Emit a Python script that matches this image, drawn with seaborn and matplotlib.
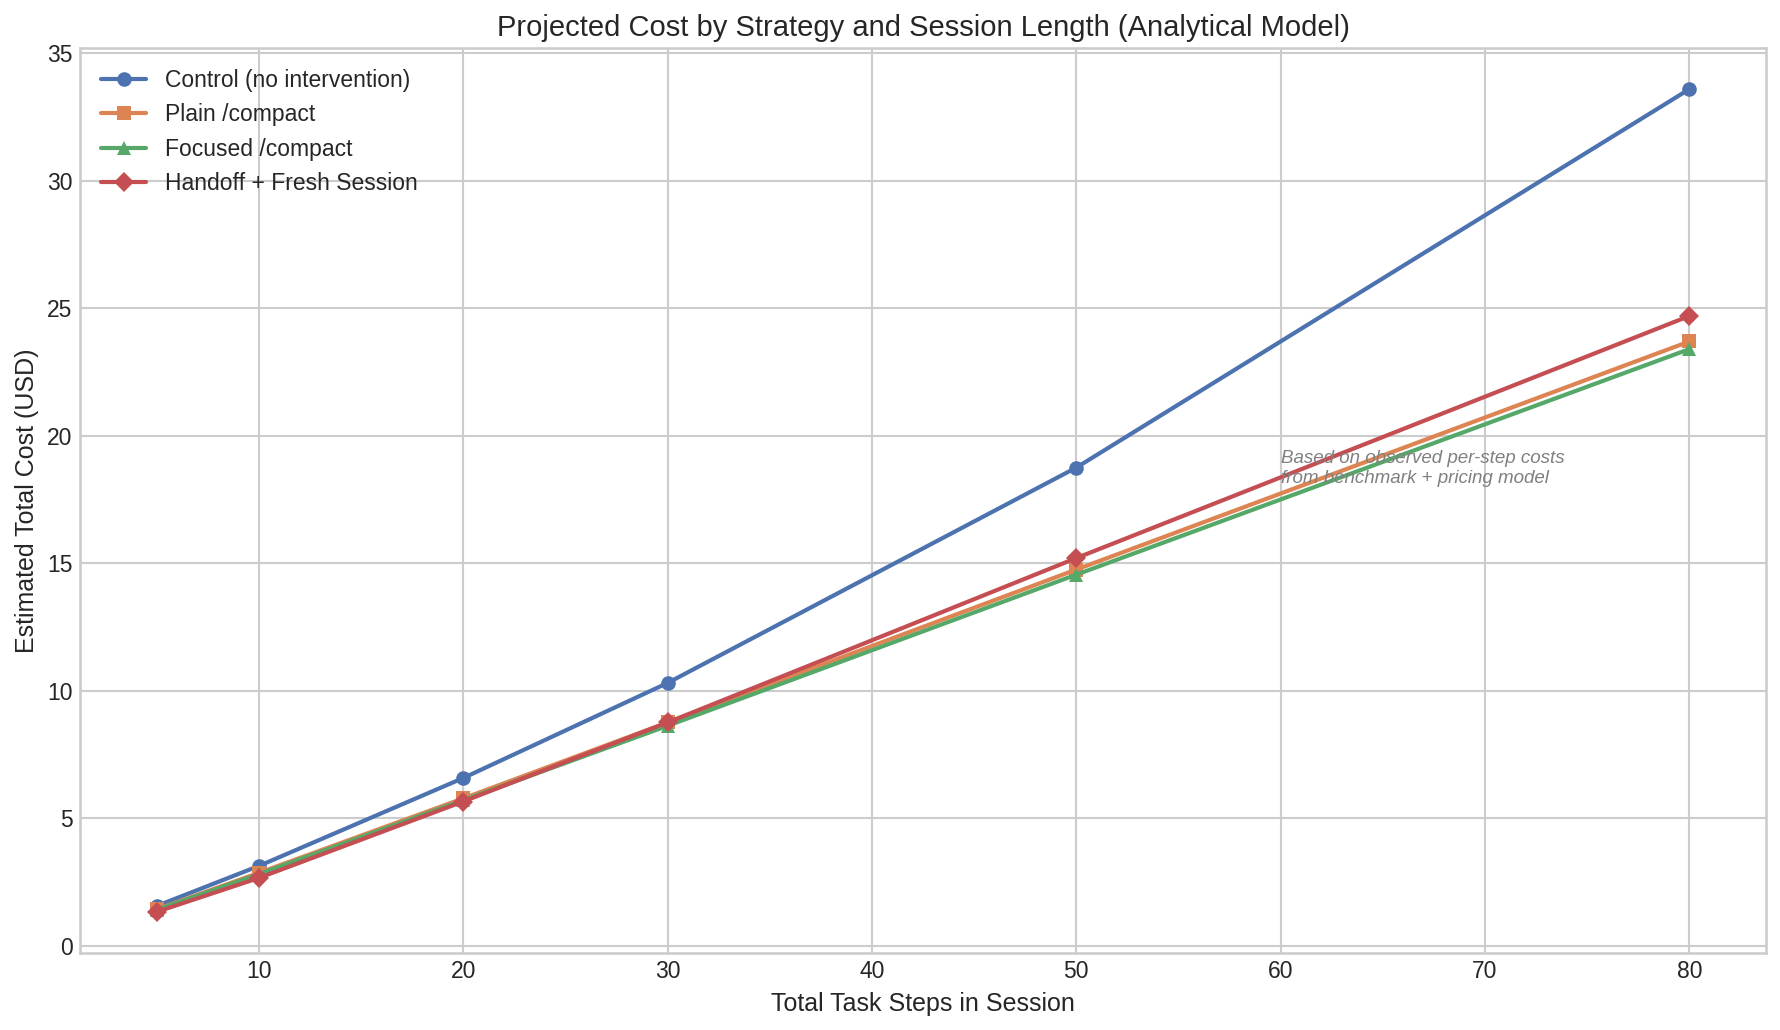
import matplotlib
matplotlib.use("Agg")
import matplotlib.pyplot as plt
import seaborn as sns
import pandas as pd

# ------------------ DATA ------------------
steps = [5, 10, 20, 30, 50, 80]
control = [1.55, 3.12, 6.57, 10.30, 18.75, 33.60]
plain = [1.42, 2.85, 5.77, 8.75, 14.75, 23.70]
focused = [1.40, 2.80, 5.70, 8.62, 14.55, 23.40]
handoff = [1.32, 2.65, 5.65, 8.75, 15.20, 24.70]

labels = ["Control (no intervention)", "Plain /compact", "Focused /compact", "Handoff + Fresh Session"]
series = [control, plain, focused, handoff]
markers = ["o", "s", "^", "D"]

# ------------------ STYLE ------------------
sns.set_theme(style="whitegrid", palette="deep")
plt.rcParams["font.family"] = ["Liberation Sans", "DejaVu Sans"]
plt.rcParams["axes.edgecolor"] = "#cccccc"
plt.rcParams["grid.color"] = "#cccccc"

colors = sns.color_palette("deep", 4)

fig, ax = plt.subplots(figsize=(1780 / 150, 1030 / 150), dpi=150)
fig.subplots_adjust(left=80 / 1780, right=1766 / 1780, top=1 - 48 / 1030, bottom=1 - 953 / 1030)

for lab, vals, mk, col in zip(labels, series, markers, colors):
    df = pd.DataFrame({"steps": steps, "cost": vals})
    sns.lineplot(data=df, x="steps", y="cost", ax=ax, label=lab, color=col,
                 marker=mk, markersize=7, markeredgewidth=0, linewidth=2)

ax.set_title("Projected Cost by Strategy and Session Length (Analytical Model)", fontsize=14, color="#262626")
ax.set_xlabel("Total Task Steps in Session", fontsize=12)
ax.set_ylabel("Estimated Total Cost (USD)", fontsize=12)
ax.tick_params(axis="both", labelsize=11, length=0)

ax.legend(loc="upper left", frameon=False, fontsize=11)

ax.text(60, 18.0, "Based on observed per-step costs\nfrom benchmark + pricing model",
        fontsize=9, style="italic", color="gray", ha="left", va="bottom")

plt.savefig("out.png", dpi=150)
plt.close()
